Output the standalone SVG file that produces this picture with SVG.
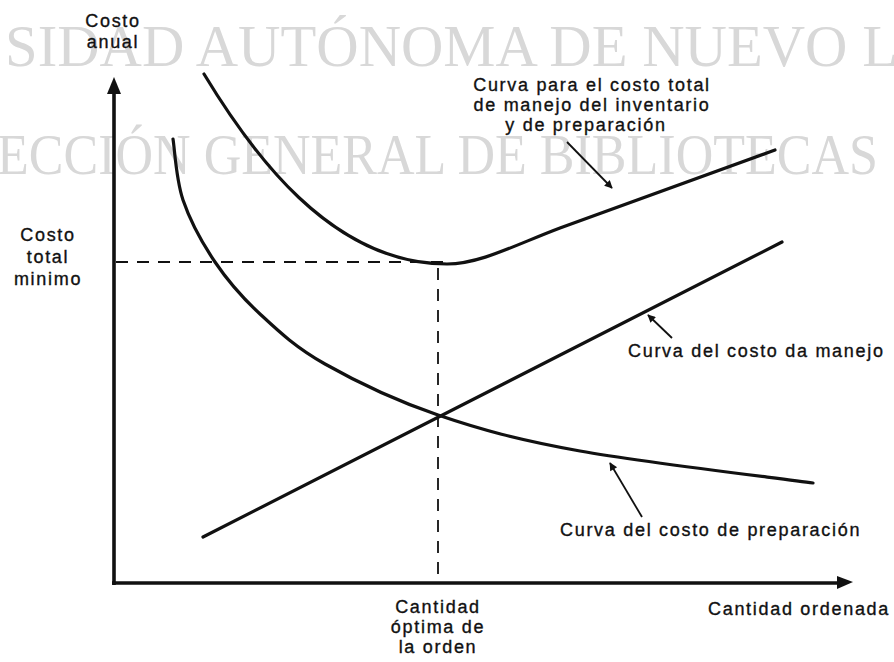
<svg xmlns="http://www.w3.org/2000/svg" width="894" height="662" viewBox="0 0 894 662">
<style>
.wm{font-family:"Liberation Serif","Times New Roman",serif;fill:#d8d8d8}
.lbl{font-family:"Liberation Sans",Arial,sans-serif;font-size:18px;letter-spacing:1.7px;fill:#111;stroke:#111;stroke-width:0.35}
.c{text-anchor:middle}
.curve{fill:none;stroke:#111;stroke-width:3.2;stroke-linecap:round;stroke-linejoin:round}
.axis{fill:none;stroke:#111;stroke-width:3.6}
.dash{fill:none;stroke:#111;stroke-width:1.8;stroke-dasharray:12 9}
.ptr{fill:none;stroke:#111;stroke-width:1.8;marker-end:url(#ah)}
</style>
<defs>
<marker id="ah" viewBox="0 0 10 10" refX="9" refY="5" markerWidth="11" markerHeight="8" markerUnits="userSpaceOnUse" orient="auto">
<path d="M0,0 L10,5 L0,10 Z" fill="#111"/>
</marker>
</defs>
<rect width="894" height="662" fill="#fff"/>
<g id="watermark">
<text class="wm" x="5" y="66" font-size="60" textLength="893" lengthAdjust="spacingAndGlyphs">SIDAD AUTÓNOMA DE NUEVO L</text>
<text class="wm" x="-3" y="174" font-size="56" textLength="881" lengthAdjust="spacingAndGlyphs">ECCIÓN GENERAL DE BIBLIOTECAS</text>
</g>
<g id="axes">
<path class="axis" d="M114,585 L114,90"/>
<path d="M114,77 L121,94 L107,94 Z" fill="#111"/>
<path class="axis" d="M112,583 L840,583"/>
<path d="M853,582 L837,576 L837,589 Z" fill="#111"/>
</g>
<g id="connectors">
<path class="dash" d="M116,262 L447,262"/>
<path class="dash" d="M438,268 L438,580"/>
<path class="ptr" d="M567,142 L612,188"/>
<path class="ptr" d="M672,338 L648,315"/>
<path class="ptr" d="M642,517 L610,463"/>
</g>
<g id="curve-total">
<path class="curve" d="M204,74 C250,150 330,264 447,264 C480,264 515,245 560,228 L775,150"/>
</g>
<g id="curve-manejo">
<path class="curve" d="M203,537 L782,242"/>
</g>
<g id="curve-preparacion">
<path class="curve" d="M173,139 C174.7,149.2 176,179.5 183,200 C190,220.5 202.2,243 215,262 C227.8,281 241.7,297 260,314 C278.3,331 295.3,347.2 325,364 C354.7,380.8 395.5,400.5 438,415 C480.5,429.5 517.5,439.7 580,451 C642.5,462.3 774.2,477.7 813,483"/>
</g>
<g id="label-y">
<text class="lbl c" x="113" y="27">Costo</text>
<text class="lbl c" x="113" y="48">anual</text>
</g>
<g id="label-min">
<text class="lbl c" x="48" y="241">Costo</text>
<text class="lbl c" x="48" y="263">total</text>
<text class="lbl c" x="48" y="285">minimo</text>
</g>
<g id="label-total">
<text class="lbl c" x="592" y="91">Curva para el costo total</text>
<text class="lbl c" x="592" y="111">de manejo del inventario</text>
<text class="lbl c" x="586" y="131">y de preparación</text>
</g>
<g id="label-manejo">
<text class="lbl" x="628" y="357">Curva del costo da manejo</text>
</g>
<g id="label-preparacion">
<text class="lbl" x="560" y="536">Curva del costo de preparación</text>
</g>
<g id="label-optima">
<text class="lbl c" x="438" y="613">Cantidad</text>
<text class="lbl c" x="438" y="633">óptima de</text>
<text class="lbl c" x="438" y="653">la orden</text>
</g>
<g id="label-x">
<text class="lbl" x="708" y="615">Cantidad ordenada</text>
</g>
</svg>
